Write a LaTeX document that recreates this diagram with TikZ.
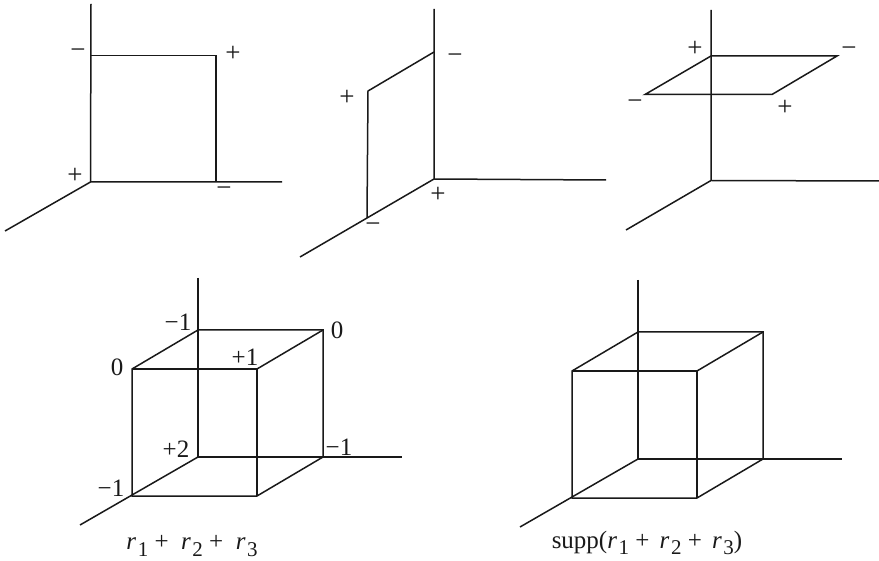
\documentclass[tikz,border=0pt]{standalone}
\usepackage{fontspec}
\setmainfont{Liberation Serif}
\usepackage{xcolor}
\usetikzlibrary{positioning,calc}
\definecolor{inkblack}{RGB}{25, 25, 25}
\newcommand{\rsub}[1]{\textit{r}\hspace{1.5pt}\raisebox{-0.55ex}{\fontsize{21}{21}\selectfont #1}}
\tikzset{
    axisline/.style={draw=inkblack, line width=1.5pt},
    faceline/.style={draw=inkblack, line width=1.5pt, line join=miter},
    signlabel/.style={text=inkblack, inner sep=0pt, font=\fontsize{27}{29}\selectfont},
    valuelabel/.style={text=inkblack, inner sep=0pt, font=\fontsize{25}{27}\selectfont},
    captionlabel/.style={text=inkblack, inner sep=0pt, font=\fontsize{25}{27}\selectfont}
}

\begin{document}
\begin{tikzpicture}[x=1pt, y=-1pt]
    \useasboundingbox (0,0) rectangle (879,561);
    % Panel one: square in the back plane
    \coordinate (aorigin) at (90.5,182);
    \coordinate (atop) at (91,4);
    \coordinate (aright) at (282,182);
    \coordinate (aleft) at (5,231);
    \coordinate (apeak) at (91,55.5);
    \coordinate (acorner) at (216,55.5);
    \coordinate (afoot) at (216,182);
    \draw[axisline] (atop) -- (aorigin) -- (aright);
    \draw[axisline] (aorigin) -- (aleft);
    \draw[faceline] (apeak) -- (acorner) -- (afoot);
    \node[signlabel] (asignone) at (78,54) {−};
    \node[signlabel] (asigntwo) at (233,54) {+};
    \node[signlabel] (asignthree) at (75,176) {+};
    \node[signlabel] (asignfour) at (224,192) {−};
    % Panel two: square in the side plane
    \coordinate (borigin) at (434,179);
    \coordinate (btop) at (434,9);
    \coordinate (bright) at (606,180);
    \coordinate (bleft) at (300,257);
    \coordinate (bpeak) at (434,52);
    \coordinate (bcorner) at (368,91);
    \coordinate (bfoot) at (367,218);
    \draw[axisline] (btop) -- (borigin) -- (bright);
    \draw[axisline] (borigin) -- (bleft);
    \draw[faceline] (bpeak) -- (bcorner) -- (bfoot);
    \node[signlabel] (bsignone) at (347,98) {+};
    \node[signlabel] (bsigntwo) at (455,59) {−};
    \node[signlabel] (bsignthree) at (438,195) {+};
    \node[signlabel] (bsignfour) at (373,228) {−};
    % Panel three: flat square
    \coordinate (corigin) at (711,180.5);
    \coordinate (ctop) at (711,10);
    \coordinate (cright) at (879,181);
    \coordinate (cleft) at (626,230);
    \coordinate (cback) at (711,56);
    \coordinate (cfar) at (837,56);
    \coordinate (cnear) at (772,94.5);
    \coordinate (cside) at (645,94.5);
    \draw[axisline] (ctop) -- (corigin) -- (cright);
    \draw[axisline] (corigin) -- (cleft);
    \draw[faceline] (cback) -- (cfar) -- (cnear) -- (cside) -- cycle;
    \node[signlabel] (csignone) at (695,49) {+};
    \node[signlabel] (csigntwo) at (849,52) {−};
    \node[signlabel] (csignthree) at (635,105) {−};
    \node[signlabel] (csignfour) at (785,108) {+};
    % Panel four: cube with values
    \coordinate (dorigin) at (198,457);
    \coordinate (dtop) at (198,278);
    \coordinate (dright) at (402,457);
    \coordinate (dleft) at (80,525);
    \coordinate (dbackl) at (198,330);
    \coordinate (dbackr) at (323,330);
    \coordinate (dbackb) at (323,457);
    \coordinate (dfrontl) at (132,369);
    \coordinate (dfrontr) at (257,369);
    \coordinate (dlowl) at (132,496);
    \coordinate (dlowr) at (257,496);
    \draw[axisline] (dtop) -- (dorigin) -- (dright);
    \draw[axisline] (dorigin) -- (dleft);
    \draw[faceline] (dbackl) -- (dbackr) -- (dbackb) -- (dlowr) -- (dlowl) -- (dfrontl) -- cycle;
    \draw[faceline] (dfrontl) -- (dfrontr) -- (dlowr);
    \draw[faceline] (dfrontr) -- (dbackr);
    \node[valuelabel] (dvalone) at (178,322) {−1};
    \node[valuelabel] (dvaltwo) at (337,330) {0};
    \node[valuelabel] (dvalthree) at (117,367) {0};
    \node[valuelabel] (dvalfour) at (245,357) {+1};
    \node[valuelabel] (dvalfive) at (176,449) {+2};
    \node[valuelabel] (dvalsix) at (339,447) {−1};
    \node[valuelabel] (dvalseven) at (111,488) {−1};
    \node[captionlabel] (dcaption) at (192,546) {\rsub{1} + \ \rsub{2} + \ \rsub{3}};
    % Panel five: cube with support
    \coordinate (eorigin) at (638,459);
    \coordinate (etop) at (638,280);
    \coordinate (eright) at (842,459);
    \coordinate (eleft) at (520,527);
    \coordinate (ebackl) at (638,332);
    \coordinate (ebackr) at (763,332);
    \coordinate (ebackb) at (763,459);
    \coordinate (efrontl) at (572,371);
    \coordinate (efrontr) at (697,371);
    \coordinate (elowl) at (572,498);
    \coordinate (elowr) at (697,498);
    \draw[axisline] (etop) -- (eorigin) -- (eright);
    \draw[axisline] (eorigin) -- (eleft);
    \draw[faceline] (ebackl) -- (ebackr) -- (ebackb) -- (elowr) -- (elowl) -- (efrontl) -- cycle;
    \draw[faceline] (efrontl) -- (efrontr) -- (elowr);
    \draw[faceline] (efrontr) -- (ebackr);
    \node[captionlabel] (ecaption) at (647,543) {supp(\rsub{1} + \hspace{4pt}\rsub{2} + \hspace{4pt}\rsub{3})};
\end{tikzpicture}
\end{document}
